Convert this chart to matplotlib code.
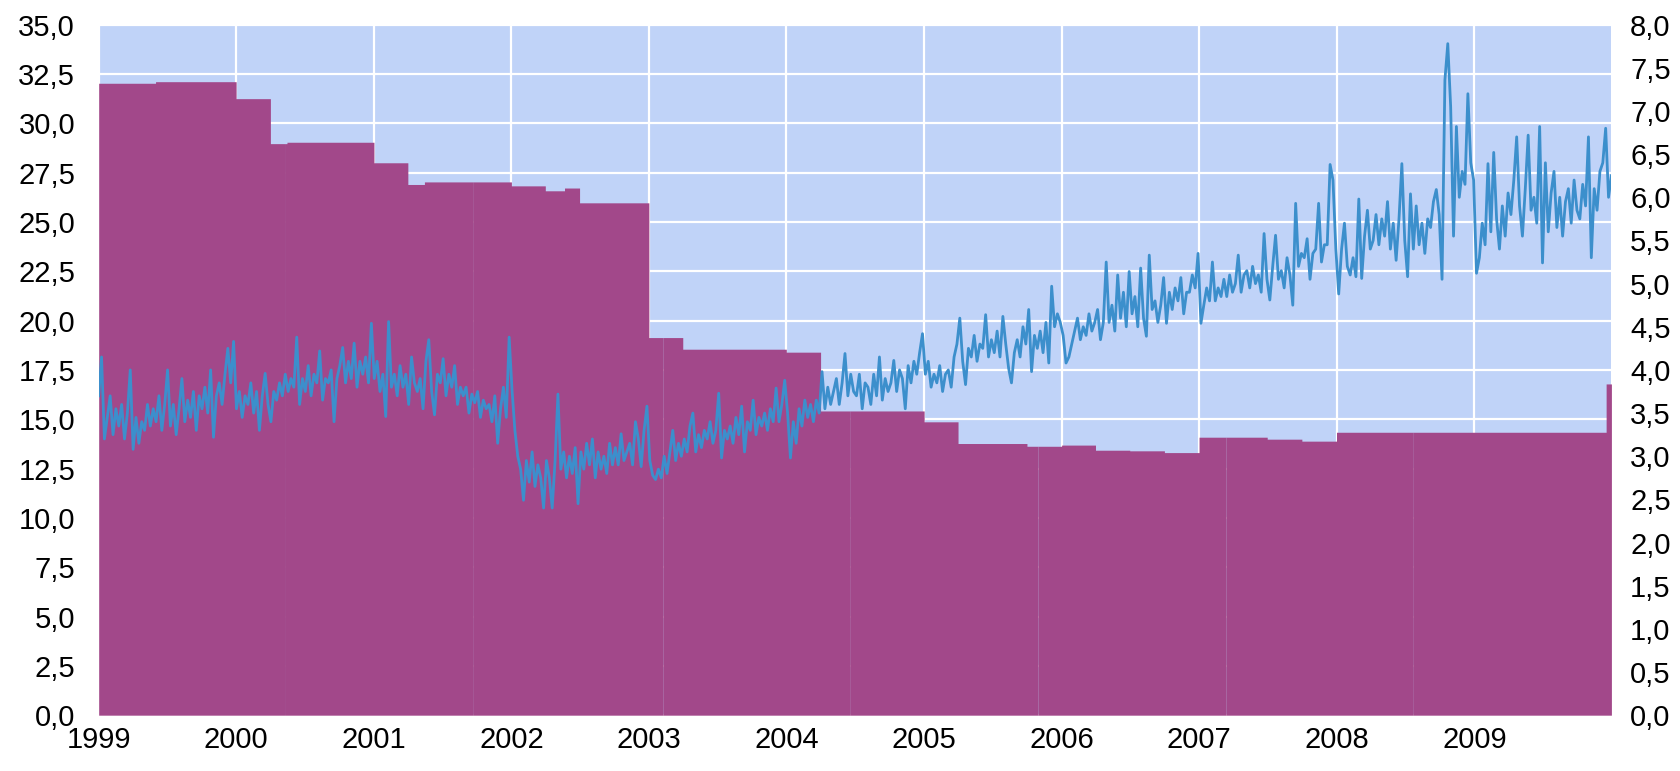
import matplotlib
matplotlib.use("Agg")
import matplotlib.pyplot as plt
import matplotlib.dates as mdates
from matplotlib.ticker import FuncFormatter, MultipleLocator
import numpy as np
import pandas as pd

plt.rcParams['font.family'] = ['Liberation Sans', 'DejaVu Sans']

# stepped series (left axis): start date of each level and its value
step_dates = ['1999-01-01', '1999-06-01', '2000-01-01', '2000-04-01', '2000-05-15',
              '2001-01-01', '2001-04-01', '2001-05-15', '2002-01-01', '2002-04-01',
              '2002-05-22', '2002-07-01', '2003-01-01', '2003-04-01', '2004-01-01',
              '2004-04-01', '2005-01-01', '2005-04-01', '2005-10-01', '2006-01-01',
              '2006-04-01', '2006-07-01', '2006-10-01', '2007-01-01', '2007-07-01',
              '2007-10-01', '2008-01-01', '2009-12-17']
step_values = [32.03, 32.11, 31.25, 28.97, 29.04,
               28.0, 26.9, 27.03, 26.83, 26.58,
               26.72, 25.97, 19.14, 18.55, 18.40,
               15.42, 14.87, 13.77, 13.63, 13.69,
               13.43, 13.40, 13.31, 14.09, 13.99,
               13.89, 14.34, 16.79]
end_date = '2009-12-31'

# the fill is drawn in pieces (visible faint seams in the original)
seam_dates = ['2000-05-11', '2001-09-20', '2003-02-07', '2004-06-19',
              '2005-10-30', '2007-03-14', '2008-07-23']

# line series (right axis), four readings per month
rate_1999 = [3.70, 4.15, 3.20, 3.45, 3.70, 3.25, 3.55, 3.35, 3.60, 3.20, 3.50, 4.00,
             3.08, 3.45, 3.15, 3.40, 3.30, 3.60, 3.35, 3.55, 3.40, 3.70, 3.30, 3.60,
             4.00, 3.35, 3.60, 3.25, 3.55, 3.90, 3.40, 3.65, 3.45, 3.75, 3.30, 3.70,
             3.55, 3.80, 3.50, 4.00, 3.22, 3.70, 3.85, 3.60, 3.95, 4.25, 3.85, 4.33]
rate_2000 = [3.55, 3.75, 3.45, 3.70, 3.60, 3.85, 3.50, 3.75, 3.30, 3.70, 3.96, 3.60,
             3.40, 3.75, 3.65, 3.85, 3.70, 3.95, 3.75, 3.90, 3.80, 4.38, 3.60, 3.90,
             3.75, 4.05, 3.70, 3.95, 3.85, 4.22, 3.65, 3.90, 3.85, 4.00, 3.40, 3.90,
             4.05, 4.26, 3.85, 4.10, 3.90, 4.31, 3.80, 4.10, 3.95, 4.15, 3.85, 4.54]
rate_2001 = [3.90, 4.10, 3.75, 3.95, 3.46, 4.56, 3.80, 3.95, 3.70, 4.05, 3.80, 3.95,
             3.60, 4.15, 3.85, 3.75, 3.90, 3.55, 4.10, 4.35, 3.75, 3.48, 3.95, 3.85,
             4.13, 3.70, 3.95, 3.80, 4.05, 3.60, 3.80, 3.70, 3.80, 3.50, 3.72, 3.62,
             3.75, 3.45, 3.65, 3.55, 3.60, 3.40, 3.70, 3.15, 3.55, 3.80, 3.45, 4.38]
rate_2002 = [3.77, 3.30, 3.00, 2.85, 2.49, 2.95, 2.70, 3.05, 2.65, 2.90, 2.75, 2.40,
             2.95, 2.75, 2.40, 2.95, 3.72, 2.85, 3.05, 2.75, 3.00, 2.80, 3.10, 2.45,
             3.05, 2.85, 3.15, 2.90, 3.20, 2.75, 3.05, 2.85, 3.00, 2.80, 3.15, 2.90,
             3.10, 2.90, 3.26, 2.95, 3.05, 3.15, 2.90, 3.40, 3.20, 2.88, 3.30, 3.58]
rate_2003 = [2.95, 2.78, 2.73, 2.85, 2.75, 3.00, 2.80, 3.05, 3.30, 2.95, 3.15, 3.00,
             3.20, 3.05, 3.35, 3.50, 3.05, 3.25, 3.10, 3.30, 3.20, 3.40, 3.15, 3.30,
             3.73, 2.98, 3.30, 3.20, 3.35, 3.15, 3.45, 3.25, 3.58, 3.05, 3.40, 3.30,
             3.65, 3.25, 3.45, 3.35, 3.50, 3.30, 3.55, 3.40, 3.79, 3.40, 3.60, 3.88]
rate_2004 = [3.50, 2.98, 3.40, 3.15, 3.55, 3.35, 3.65, 3.45, 3.60, 3.40, 3.65, 3.50,
             3.98, 3.55, 3.80, 3.60, 3.75, 3.90, 3.60, 3.85, 4.19, 3.70, 3.95, 3.75,
             3.70, 3.95, 3.55, 3.85, 3.80, 3.60, 3.95, 3.70, 4.15, 3.65, 3.90, 3.75,
             3.85, 4.11, 3.75, 4.00, 3.90, 3.55, 4.05, 3.85, 4.10, 3.95, 4.20, 4.42]
rate_2005 = [3.95, 4.10, 3.80, 3.95, 3.85, 4.05, 3.75, 3.95, 4.00, 3.80, 4.15, 4.30,
             4.60, 4.10, 3.83, 4.25, 4.15, 4.40, 4.10, 4.30, 4.25, 4.64, 4.15, 4.35,
             4.20, 4.45, 4.15, 4.62, 4.30, 4.02, 3.85, 4.20, 4.35, 4.15, 4.50, 4.30,
             4.70, 3.98, 4.40, 4.25, 4.45, 4.20, 4.55, 4.08, 4.97, 4.50, 4.65, 4.55]
rate_2006 = [4.40, 4.08, 4.15, 4.30, 4.45, 4.60, 4.35, 4.50, 4.40, 4.65, 4.45, 4.55,
             4.70, 4.35, 4.55, 5.25, 4.55, 4.75, 4.45, 5.10, 4.60, 4.90, 4.50, 5.14,
             4.65, 4.85, 4.50, 5.18, 4.60, 4.39, 5.33, 4.70, 4.80, 4.55, 4.75, 5.07,
             4.54, 4.90, 4.70, 4.95, 4.80, 5.07, 4.65, 4.90, 4.90, 5.10, 4.95, 5.35]
rate_2007 = [4.54, 4.75, 4.95, 4.80, 5.25, 4.80, 4.95, 4.85, 5.05, 4.85, 5.10, 4.90,
             5.00, 5.33, 4.90, 5.10, 5.15, 4.95, 5.20, 5.00, 5.10, 4.90, 5.58, 5.05,
             4.81, 5.20, 5.56, 5.05, 5.15, 4.95, 5.30, 5.10, 4.75, 5.93, 5.20, 5.35,
             5.30, 5.52, 5.05, 5.35, 5.40, 5.93, 5.25, 5.45, 5.45, 6.38, 6.20, 5.40]
rate_2008 = [4.88, 5.40, 5.70, 5.20, 5.10, 5.30, 5.08, 5.98, 5.06, 5.55, 5.85, 5.40,
             5.50, 5.80, 5.45, 5.75, 5.55, 5.95, 5.40, 5.70, 5.27, 5.75, 6.39, 5.50,
             5.08, 6.04, 5.40, 5.90, 5.45, 5.70, 5.35, 5.75, 5.65, 5.95, 6.09, 5.80,
             5.05, 7.36, 7.78, 7.05, 5.55, 6.82, 6.00, 6.30, 6.15, 7.20, 6.40, 6.20]
rate_2009 = [5.12, 5.30, 5.70, 5.45, 6.39, 5.60, 6.52, 5.75, 5.40, 5.90, 5.55, 6.05,
             5.80, 6.20, 6.70, 5.90, 5.55, 6.10, 6.72, 5.85, 6.00, 5.70, 6.82, 5.24,
             6.40, 5.60, 6.05, 6.30, 5.65, 6.00, 5.55, 5.95, 6.10, 5.70, 6.20, 5.85,
             5.75, 6.15, 5.90, 6.70, 5.30, 6.10, 5.85, 6.30, 6.40, 6.80, 6.00, 6.25]

rates = (rate_1999 + rate_2000 + rate_2001 + rate_2002 + rate_2003 + rate_2004 +
         rate_2005 + rate_2006 + rate_2007 + rate_2008 + rate_2009)
rate_dates = pd.date_range('1999-01-01', end_date, periods=len(rates))

# step series on a daily grid
steps = pd.Series(step_values, index=pd.to_datetime(step_dates))
days = pd.date_range('1999-01-01', end_date, freq='D')
steps_daily = steps.reindex(days, method='ffill')

purple = '#A2488A'
blue = '#3C8FCC'
bg = '#C0D3F8'

fig = plt.figure(figsize=(16.81, 7.71), dpi=100)
ax = fig.add_axes([0.0587, 0.0724, 0.8999, 0.8956])
ax.set_facecolor(bg)

bounds = [days[0]] + list(pd.to_datetime(seam_dates)) + [days[-1]]
for a, b in zip(bounds[:-1], bounds[1:]):
    part = steps_daily[(steps_daily.index >= a) & (steps_daily.index <= b)]
    ax.fill_between(part.index, 0, part.values, step='post',
                    color=purple, linewidth=0, zorder=2)

ax.set_ylim(0, 35)
ax.set_xlim(pd.Timestamp('1999-01-01'), pd.Timestamp(end_date))
ax.yaxis.set_major_locator(MultipleLocator(2.5))
comma = FuncFormatter(lambda v, p: f"{v:.1f}".replace('.', ','))
ax.yaxis.set_major_formatter(comma)

ax.xaxis.set_major_locator(mdates.YearLocator())
ax.xaxis.set_major_formatter(mdates.DateFormatter('%Y'))

ax.grid(True, color='white', linewidth=1.6)
ax.set_axisbelow(True)
for s in ax.spines.values():
    s.set_visible(False)
ax.tick_params(axis='both', length=0, labelsize=21)
ax.tick_params(axis='y', pad=17)
ax.tick_params(axis='x', pad=7.5)

ax2 = ax.twinx()
ax2.plot(rate_dates, rates, color=blue, linewidth=2.0, zorder=3)
ax2.set_ylim(0, 8)
ax2.yaxis.set_major_locator(MultipleLocator(0.5))
ax2.yaxis.set_major_formatter(comma)
ax2.tick_params(axis='y', length=0, labelsize=21, pad=13.5)
for s in ax2.spines.values():
    s.set_visible(False)

fig.savefig('out.png', dpi=100)
